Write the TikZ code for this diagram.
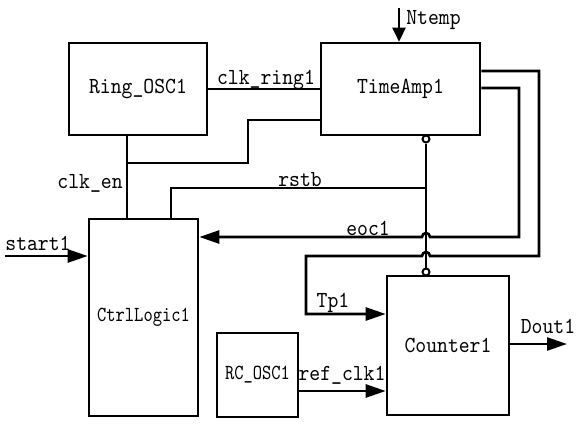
\documentclass[tikz,border=0pt]{standalone}
\usepackage{fontspec}
\usetikzlibrary{arrows.meta,calc}
\newfontfamily\lblfont[FakeStretch=0.9]{lmmono10-regular.otf}
\newfontfamily\narrowfont[FakeStretch=0.82]{lmmono10-regular.otf}
\begin{document}
\begin{tikzpicture}[x=1pt,y=-1pt, line width=2.6pt,
  blk/.style={draw, rectangle, inner sep=0pt, font=\lblfont\fontsize{23}{23}\selectfont},
  blksmall/.style={blk, font=\narrowfont\fontsize{21.5}{21.5}\selectfont},
  lbl/.style={inner sep=0pt, font=\lblfont\fontsize{23}{23}\selectfont},
  arr/.style={-{Triangle[length=20pt,width=13pt]}},
  bub/.style={circle, draw, fill=white, inner sep=0pt, minimum size=7pt, line width=2pt}]
\useasboundingbox (0,0) rectangle (586,428);

% blocks
\node[blk, minimum width=138pt, minimum height=92pt] (ring) at (138,89) {Ring\_OSC1};
\node[blk, minimum width=159pt, minimum height=92pt] (amp) at (400.5,89) {TimeAmp1};
\node[blksmall, minimum width=109pt, minimum height=197pt] (ctrl) at (143.5,317.5) {CtrlLogic1};
\node[blksmall, minimum width=81pt, minimum height=84pt] (rc) at (257.5,375) {RC\_OSC1};
\node[blk, minimum width=122pt, minimum height=139pt] (cnt) at (448,345.5) {Counter1};

% helper coordinates
\coordinate (ja) at (127,163);
\coordinate (jb) at (248,120);
\coordinate (jr) at (171,188);
\coordinate (e1) at (519,88);
\coordinate (e2) at (519,237);
\coordinate (t1) at (539,71);
\coordinate (t2) at (539,256);
\coordinate (t3) at (306,256);
\coordinate (t4) at (306,314);
\coordinate (rf) at (0,391);
\coordinate (dout) at (567,344);
\coordinate (st) at (5,256);
\coordinate (nt) at (399,8);

% inversion bubbles and vertical link
\node[bub] (ct) at (426,139) {};
\node[bub] (cb) at (426,272) {};
\draw (ct) -- (cb);

% clk_ring1
\draw (ring.east) -- (amp.west);
% clk_en
\draw (ring.south -| ja) -- (ctrl.north -| ja);
\draw (amp.west |- jb) -- (jb) -- (jb |- ja) -- (ja);
% rstb
\draw (ctrl.north -| jr) -- (jr) -- (jr -| ct);
% eoc1
\draw[arr] (amp.east |- e1) -- (e1) -- (e2) -- ($(e2 -| ct)+(4,0)$)
  arc[start angle=0,end angle=180,radius=4pt] -- (ctrl.east |- e2);
% Tp1
\draw[arr] (amp.east |- t1) -- (t1) -- (t2) -- ($(t2 -| ct)+(4,0)$)
  arc[start angle=0,end angle=180,radius=4pt] -- (t3) -- (t4) -- (cnt.west |- t4);
% ref_clk1
\draw[arr] (rc.east |- rf) -- (cnt.west |- rf);
% Dout1
\draw[arr] (cnt.east |- dout) -- (dout);
% start1
\draw[arr] (st) -- (ctrl.west |- st);
% Ntemp
\draw[-{Triangle[length=14pt,width=13pt]}] (nt) -- (amp.north -| nt);

% labels
\node[lbl] (lring) at (266,80) {clk\_ring1};
\node[lbl, anchor=east] (len) at (124,183) {clk\_en};
\node[lbl] (lrst) at (300,180) {rstb};
\node[lbl] (leoc) at (368,228) {eoc1};
\node[lbl] (ltp) at (333,303) {Tp1};
\node[lbl] (lref) at (342,375) {ref\_clk1};
\node[lbl] (ldout) at (548,326) {Dout1};
\node[lbl] (lstart) at (38,243) {start1};
\node[lbl, anchor=west] (lnt) at (405,20) {Ntemp};
\end{tikzpicture}
\end{document}
